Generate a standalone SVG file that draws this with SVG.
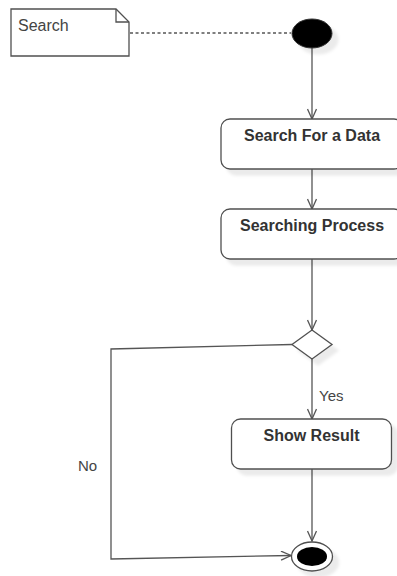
<svg xmlns="http://www.w3.org/2000/svg" width="397" height="576" viewBox="0 0 397 576">
<style>
.node{fill:#ffffff;stroke:#505050;stroke-width:1.3}
.edge{fill:none;stroke:#555555;stroke-width:1.3}
.lbl{font-family:"Liberation Sans",Arial,sans-serif;font-size:16px;font-weight:bold;fill:#333333;text-anchor:middle}
.txt{font-family:"Liberation Sans",Arial,sans-serif;font-size:15px;fill:#444444}
</style>
<defs>
<filter id="sh" x="-20%" y="-20%" width="150%" height="160%">
<feDropShadow dx="6" dy="6" stdDeviation="1.5" flood-color="#000000" flood-opacity="0.08"/>
</filter>
<marker id="arr" viewBox="0 0 12 10" refX="11" refY="5" markerWidth="12" markerHeight="10" markerUnits="userSpaceOnUse" orient="auto">
<path d="M1,0.5 L11,5 L1,9.5" fill="none" stroke="#555555" stroke-width="1.3"/>
</marker>
</defs>
<g id="connectors">
<line class="edge" x1="130" y1="33" x2="291" y2="33" stroke-dasharray="3 2.5"/>
<line class="edge" x1="312" y1="48" x2="312" y2="119" marker-end="url(#arr)"/>
<line class="edge" x1="312" y1="169" x2="312" y2="209" marker-end="url(#arr)"/>
<line class="edge" x1="312" y1="259" x2="312" y2="330" marker-end="url(#arr)"/>
<line class="edge" x1="312" y1="359" x2="312" y2="419" marker-end="url(#arr)"/>
<line class="edge" x1="312" y1="469" x2="312" y2="541" marker-end="url(#arr)"/>
<polyline class="edge" points="292,344.5 111,349 111,559 291,555.5" marker-end="url(#arr)"/>
<text class="txt" x="319" y="400.5">Yes</text>
<text class="txt" x="78" y="470.5">No</text>
</g>
<g id="note">
<path class="node" d="M11,9 H116 L129,22 V56 H11 Z"/>
<path d="M116,9 V22 H129" fill="none" stroke="#505050" stroke-width="1.3"/>
<text class="txt" x="18" y="31" style="font-size:16px">Search</text>
</g>
<g id="start">
<ellipse cx="312" cy="33.5" rx="20" ry="14.5" fill="#000000" stroke="#333333" stroke-width="1" filter="url(#sh)"/>
</g>
<g id="search-for-data">
<rect class="node" x="221" y="119" width="182" height="50" rx="9" filter="url(#sh)"/>
<text class="lbl" x="312" y="141">Search For a Data</text>
</g>
<g id="searching-process">
<rect class="node" x="221" y="209" width="182" height="50" rx="9" filter="url(#sh)"/>
<text class="lbl" x="312" y="231">Searching Process</text>
</g>
<g id="decision">
<polygon class="node" points="312,330 332,344.5 312,359 292,344.5" filter="url(#sh)"/>
</g>
<g id="show-result">
<rect class="node" x="231.5" y="419" width="160" height="50" rx="9" filter="url(#sh)"/>
<text class="lbl" x="311.5" y="441">Show Result</text>
</g>
<g id="end">
<ellipse class="node" cx="312" cy="556.5" rx="20.5" ry="14.5" filter="url(#sh)"/>
<ellipse cx="312" cy="556.5" rx="15" ry="9.5" fill="#000000"/>
</g>
</svg>
